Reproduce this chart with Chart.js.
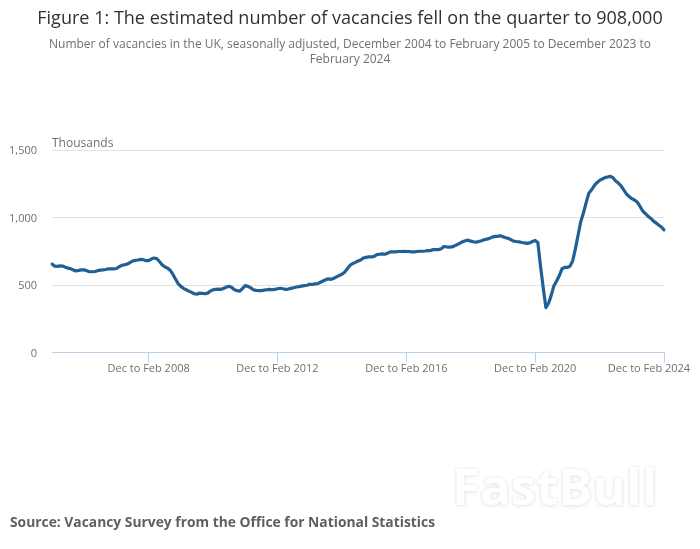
<!DOCTYPE html>
<html><head><meta charset="utf-8">
<script src="https://cdn.jsdelivr.net/npm/chart.js@4/dist/chart.umd.min.js"></script>
<style>
html,body{margin:0;padding:0;background:#fff;width:700px;height:549px;overflow:hidden;font-family:"Open Sans",sans-serif}
#w{position:relative;width:700px;height:549px}
canvas{position:absolute;left:0;top:0}
.t{position:absolute;white-space:nowrap}
#title{left:0;width:700px;top:4px;text-align:center;font-size:18.05px;line-height:26px;color:#323132}
#sub{left:40px;width:620px;top:36px;text-align:center;white-space:normal;font-size:12px;line-height:15px;color:#707071}
#unit{left:52px;top:135px;font-size:12px;line-height:16px;color:#707071}
#src{left:10px;top:513px;font-size:13.84px;line-height:18px;font-weight:700;color:#5f5f60}
#wm{left:452px;top:451px;font-size:51px;line-height:68px;font-weight:700;color:#fff;text-shadow:0 0 3px #e4e4e4,0 1px 4px #e8e8e8}
</style></head><body>
<div id="w">
<canvas id="c" width="700" height="549"></canvas>
<div class="t" id="wm">FastBull</div>
<div class="t" id="title">Figure 1: The estimated number of vacancies fell on the quarter to 908,000</div>
<div class="t" id="sub">Number of vacancies in the UK, seasonally adjusted, December 2004 to February 2005 to December 2023 to February 2024</div>
<div class="t" id="unit">Thousands</div>
<div class="t" id="src">Source: Vacancy Survey from the Office for National Statistics</div>
</div>
<script>
const v2005=[655,640,638,642,640,632,625,620,610,605,608,612];
const v2006=[612,605,598,598,600,606,610,612,615,620,620,620];
const v2007=[622,635,645,650,655,665,678,682,685,690,688,680];
const v2008=[680,692,700,695,675,650,635,625,610,580,545,510];
const v2009=[490,475,465,455,445,435,432,440,438,435,440,455];
const v2010=[465,468,470,468,475,485,490,482,465,458,455,475];
const v2011=[495,490,480,465,460,458,458,462,465,468,465,468];
const v2012=[472,476,472,468,470,475,480,485,488,492,495,498];
const v2013=[505,505,508,510,520,530,540,545,542,550,560,570];
const v2014=[580,595,620,645,658,668,678,685,700,705,708,708];
const v2015=[712,725,728,730,728,735,745,745,745,748,748,750];
const v2016=[748,748,745,745,748,750,750,752,755,755,762,762];
const v2017=[762,768,785,782,780,782,790,800,810,820,828,832];
const v2018=[825,820,818,822,828,835,840,845,855,860,860,865];
const v2019=[858,850,845,835,825,822,820,815,812,808,812,822];
const v2020=[830,815,640,480,333,365,425,495,530,570,620,630];
const v2021=[630,640,680,770,870,970,1035,1110,1180,1205,1235,1258];
const v2022=[1275,1285,1295,1300,1305,1295,1270,1255,1235,1205,1175,1155];
const v2023=[1140,1130,1115,1085,1050,1030,1010,995,975,960,945,930,908];
const vacancies=[].concat(v2005,v2006,v2007,v2008,v2009,v2010,v2011,v2012,v2013,v2014,v2015,v2016,v2017,v2018,v2019,v2020,v2021,v2022,v2023);
const monthNames=["Dec to Feb","Jan to Mar","Feb to Apr","Mar to May","Apr to Jun","May to Jul","Jun to Aug","Jul to Sep","Aug to Oct","Sep to Nov","Oct to Dec","Nov to Jan"];
const categories=vacancies.map((_,i)=>monthNames[i%12]+" "+(2005+Math.floor(i/12)));
const xTickLabels=["Dec to Feb 2008","Dec to Feb 2012","Dec to Feb 2016","Dec to Feb 2020","Dec to Feb 2024"];
const yTicks=[0,500,1000,1500];
const fam='"Open Sans",sans-serif';
const nudge={
 id:'nudge',
 beforeDraw(chart){
  const xi=chart.scales.x.getLabelItems();
  const last=xi[xi.length-1];
  if(last&&!last._moved){last.options.translation[0]-=15;last._moved=true;}
  chart.scales.y.getLabelItems().forEach(it=>{
   if(!it._moved){it.options.translation[1]+=1;it._moved=true;}
  });
 }
};
new Chart(document.getElementById('c'),{
 type:'line',
 plugins:[nudge],
 data:{labels:categories,datasets:[{data:vacancies,borderColor:'#206095',borderWidth:3.2,pointRadius:0,tension:0,fill:false,borderCapStyle:'round',borderJoinStyle:'round'}]},
 options:{
  responsive:false,animation:false,
  layout:{padding:{top:150,right:36,bottom:166.5,left:0}},
  plugins:{legend:{display:false},tooltip:{enabled:false}},
  scales:{
   x:{type:'category',offset:false,
    afterBuildTicks:a=>{a.ticks=a.ticks.filter(t=>xTickLabels.includes(categories[t.value]));},
    afterFit:a=>{a.height=30;a.paddingRight=0;a.paddingLeft=0;},
    grid:{drawOnChartArea:false,drawTicks:true,tickLength:10,color:'#bcd0ea',tickColor:'#bcd0ea'},
    border:{color:'#bcd0ea',width:1},
    ticks:{autoSkip:false,maxRotation:0,minRotation:0,padding:0,color:'#707071',font:{family:fam,size:11},
     callback:function(v){return categories[v];}}
   },
   y:{min:0,max:1500,
    afterBuildTicks:a=>{a.ticks=yTicks.map(v=>({value:v}));},
    afterFit:a=>{a.width=52;a.paddingTop=0;a.paddingBottom=0;},
    grid:{color:'#e2e2e3',drawTicks:false},
    border:{display:false},
    ticks:{padding:15,color:'#707071',font:{family:fam,size:11},
     callback:v=>v.toLocaleString('en-GB')}
   }
  }
 }
});
</script>
</body></html>
